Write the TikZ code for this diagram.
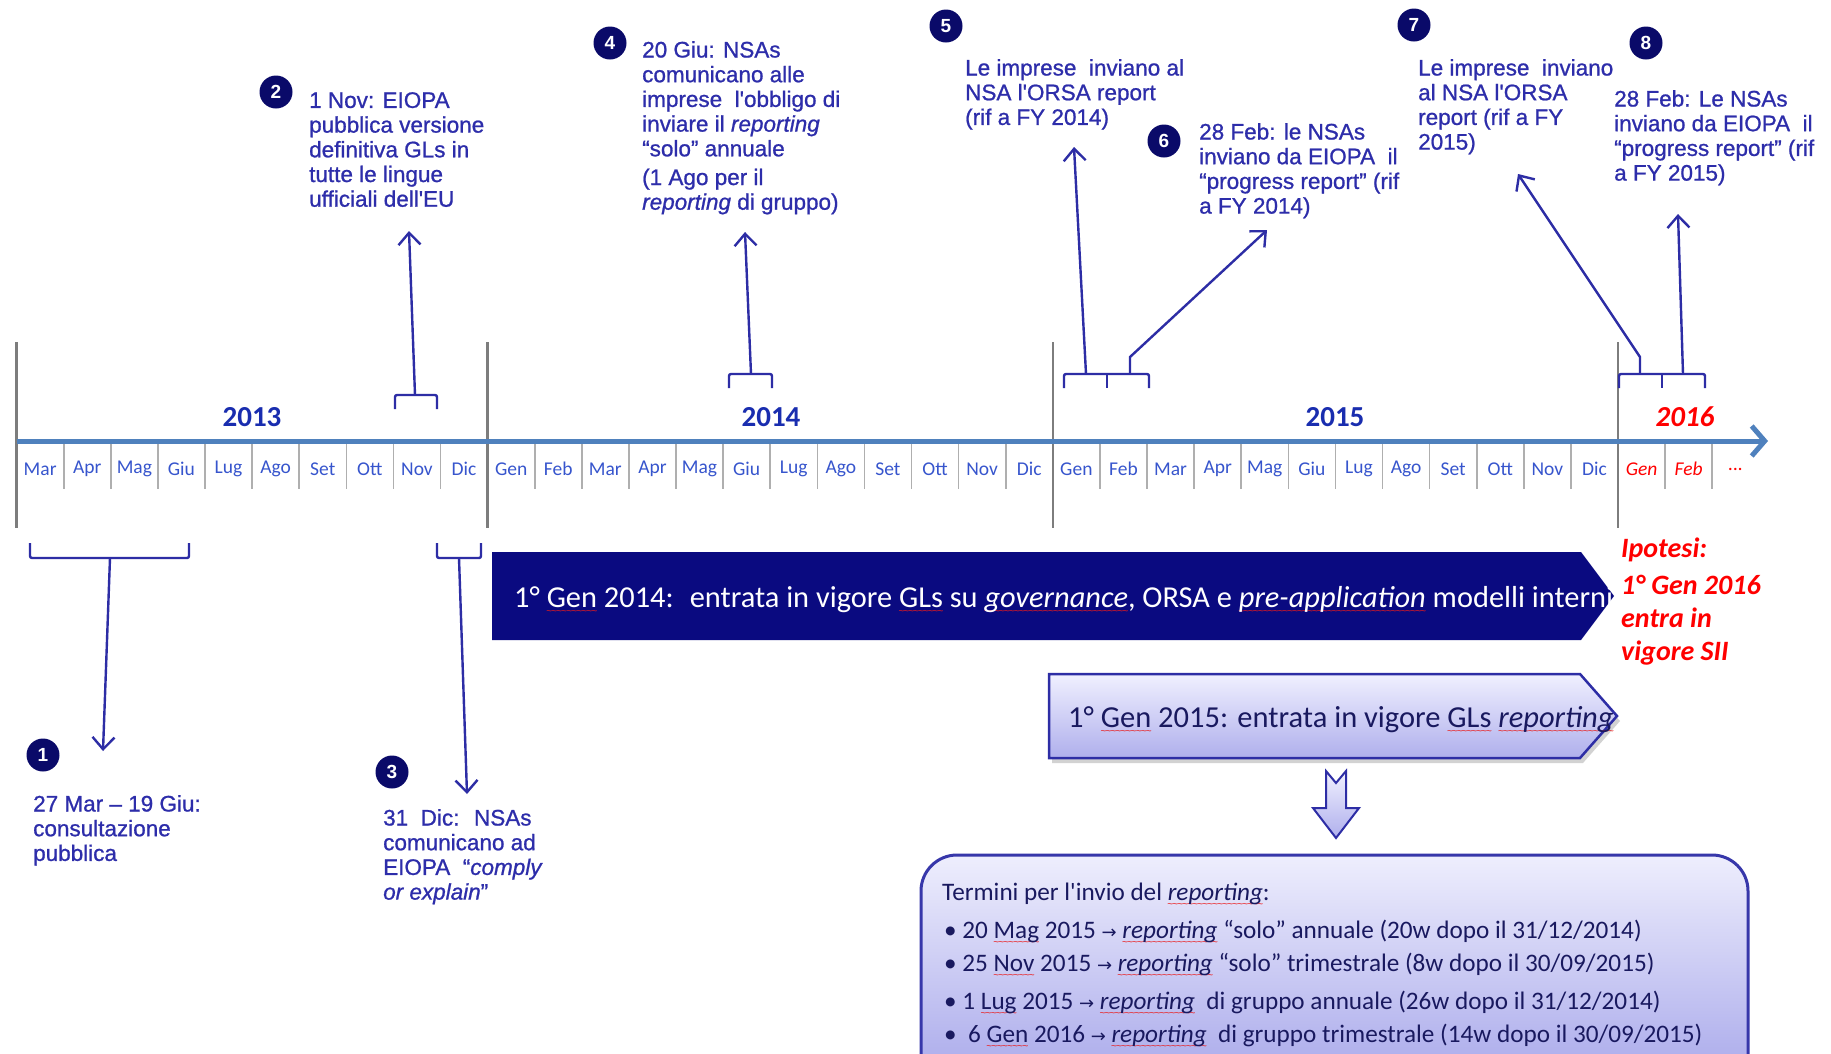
\documentclass[tikz,border=0pt]{standalone}
\usepackage{fontspec}
\setmainfont{Liberation Sans}
\newfontfamily\calib{Carlito}
\newfontfamily\symfont{DejaVu Sans}
\newfontfamily\calloutfont{Liberation Sans}[FakeBold=0.9]
\usetikzlibrary{arrows.meta,shadows}

\definecolor{navy}{RGB}{10,10,105}
\definecolor{linkblue}{RGB}{45,45,165}
\definecolor{txtblue}{RGB}{45,45,170}
\definecolor{monblue}{RGB}{55,85,205}
\definecolor{yrblue}{RGB}{25,45,175}
\definecolor{axisblue}{RGB}{79,129,189}
\definecolor{gridgrey}{RGB}{125,125,125}
\definecolor{tickgrey}{RGB}{175,175,175}
\definecolor{bannernavy}{RGB}{10,10,128}
\definecolor{lavtop}{RGB}{240,240,255}
\definecolor{lavbot}{RGB}{175,175,236}
\definecolor{boxtop}{RGB}{238,238,253}
\definecolor{boxbot}{RGB}{160,160,232}
\definecolor{boxline}{RGB}{55,55,170}
\definecolor{boxtxt}{RGB}{25,25,95}
\definecolor{squig}{RGB}{235,25,25}
\definecolor{hypred}{RGB}{255,0,0}

% red wavy underline for the marked words (a row of small tildes)
\newcommand\sq[1]{\leavevmode\setbox0\hbox{#1}%
  \rlap{\raisebox{-7.5pt}[0pt][0pt]{\hbox to\wd0{\color{squig}\normalfont\fontsize{10}{10}\selectfont
    \xleaders\hbox{\kern-0.5pt\char"7E\kern-0.5pt}\hfil}}}\box0\relax}
\newcommand\rarr{{\symfont\fontsize{18}{18}\selectfont →}}

\begin{document}
\begin{tikzpicture}[x=1pt,y=-1pt,
  mon/.style={font=\calib\fontsize{19.5}{20}\selectfont, text=monblue, inner sep=0},
  monnext/.style={font=\calib\itshape\fontsize{19.5}{20}\selectfont, text=hypred, inner sep=0},
  yr/.style={font=\calib\bfseries\fontsize{29}{30}\selectfont, text=yrblue, inner sep=0},
  callout/.style={font=\calloutfont\fontsize{22.5}{24.7}\selectfont, text=txtblue, align=left, anchor=north west, inner sep=0},
  num/.style={circle, fill=navy, text=white, font=\bfseries\fontsize{19}{19}\selectfont, minimum size=33pt, inner sep=0},
  brk/.style={draw=linkblue, line width=2.4pt, rounded corners=2pt},
  link/.style={draw=linkblue, line width=2.4pt, -{Straight Barb[length=12pt,width=22pt]}},
  bantext/.style={font=\calib\fontsize{30.4}{33}\selectfont, anchor=base west, inner sep=0},
  boxtext/.style={font=\calib\fontsize{25.2}{27}\selectfont, text=boxtxt, anchor=base west, inner sep=0},
]
\useasboundingbox (0,0) rectangle (1831,1053);
\fill[white] (0,0) rectangle (1831,1053);
\clip (0,0) rectangle (1831,1053);

% ---------- timeline ----------
\foreach \i in {0,10,22,34}
  \draw[gridgrey, line width=2.5pt] ({16.6+\i*47.1},342) -- ({16.6+\i*47.1},528);
\foreach \i in {1,...,9,11,12,...,21,23,24,...,33,35,36}
  \draw[tickgrey, line width=1.6pt] ({16.6+\i*47.1},441) -- ({16.6+\i*47.1},489);

\coordinate (axL) at (16.6,441);
\coordinate (axR) at (1768,441);
\draw[axisblue, line width=5pt, -{Straight Barb[length=13pt,width=30pt]}] (axL) -- (axR);

\foreach \m [count=\i from 0] in {Mar,Apr,Mag,Giu,Lug,Ago,Set,Ott,Nov,Dic,
    Gen,Feb,Mar,Apr,Mag,Giu,Lug,Ago,Set,Ott,Nov,Dic,
    Gen,Feb,Mar,Apr,Mag,Giu,Lug,Ago,Set,Ott,Nov,Dic}
  \node[mon] (m\i) at ({16.6+(\i+0.5)*47.1},469) {\m};
\node[monnext] (m34) at ({16.6+34.5*47.1},469) {Gen};
\node[monnext] (m35) at ({16.6+35.5*47.1},469) {Feb};
\node[monnext] (m36) at ({16.6+36.5*47.1},469) {...};

\node[yr] (y13) at (252,417) {2013};
\node[yr] (y14) at (771,417) {2014};
\node[yr] (y15) at (1335,417) {2015};
\node[yr, text=hypred, font=\calib\bfseries\itshape\fontsize{29}{30}\selectfont] (y16) at (1685,417) {2016};

% ---------- brackets ----------
\draw[brk] (30,543) -- (30,558) -- (189,558) -- (189,543);
\draw[brk] (437,543) -- (437,558) -- (481,558) -- (481,543);
\draw[brk] (395,409) -- (395,395) -- (437,395) -- (437,409);
\draw[brk] (729,388) -- (729,374) -- (772,374) -- (772,388);
\draw[brk] (1064,388) -- (1064,374) -- (1149,374) -- (1149,388);
\draw[brk] (1107,374) -- (1107,388);
\draw[brk] (1619,388) -- (1619,374) -- (1705,374) -- (1705,388);
\draw[brk] (1662,374) -- (1662,388);

% ---------- numbered events ----------
\node[num] (c1) at (43,755) {1};
\node[num] (c2) at (276,92) {2};
\node[num] (c3) at (392,772) {3};
\node[num] (c4) at (610,43) {4};
\node[num] (c5) at (946,26) {5};
\node[num] (c6) at (1164,141) {6};
\node[num] (c7) at (1414,25) {7};
\node[num] (c8) at (1646,43) {8};

\node[callout] (l1) at (33,795) {27 Mar – 19 Giu:\\consultazione\\pubblica};
\node[callout] (l2) at (309,92) {1 Nov: EIOPA\\pubblica versione\\definitiva GLs in\\tutte le lingue\\ufficiali dell'EU};
\node[callout] (l3) at (383,809) {31~ Dic:~ NSAs\\comunicano ad\\EIOPA~ “\textit{comply}\\\textit{or explain}”};
\node[callout] (l4) at (642,41) {20 Giu: NSAs\\comunicano alle\\imprese~ l'obbligo di\\inviare il \textit{reporting}\\“solo” annuale\\[4pt](1 Ago per il\\\textit{reporting} di gruppo)};
\node[callout] (l5) at (965,59) {Le imprese~ inviano al\\NSA l'ORSA report\\(rif a FY 2014)};
\node[callout] (l6) at (1199,123) {28 Feb: le NSAs\\inviano da EIOPA~ il\\“progress report” (rif\\a FY 2014)};
\node[callout] (l7) at (1418,59) {Le imprese~ inviano\\al NSA l'ORSA\\report (rif a FY\\2015)};
\node[callout] (l8) at (1614,90) {28 Feb: Le NSAs\\inviano da EIOPA~ il\\“progress report” (rif\\a FY 2015)};

% stems: from the bracket to the event text
\coordinate (s1) at (110,558);  \coordinate (e1) at (103,751);
\coordinate (s2) at (415,395);  \coordinate (e2) at (409,231);
\coordinate (s3) at (459,558);  \coordinate (e3) at (467,794);
\coordinate (s4) at (751,374);  \coordinate (e4) at (745,232);
\coordinate (s5) at (1086,374); \coordinate (e5) at (1074,147);
\coordinate (s6) at (1130,374); \coordinate (k6) at (1130,357); \coordinate (e6) at (1267,230);
\coordinate (s7) at (1640,374); \coordinate (k7) at (1640,357); \coordinate (e7) at (1518,174);
\coordinate (s8) at (1683,374); \coordinate (e8) at (1678,214);

\draw[link] (s1) -- (e1);
\draw[link] (s2) -- (e2);
\draw[link] (s3) -- (e3);
\draw[link] (s4) -- (e4);
\draw[link] (s5) -- (e5);
\draw[link] (s6) -- (k6) -- (e6);
\draw[link] (s7) -- (k7) -- (e7);
\draw[link] (s8) -- (e8);

% ---------- 2014 banner ----------
\fill[bannernavy] (492,552) -- (1581,552) -- (1614,596) -- (1581,640) -- (492,640) -- cycle;
\node[bantext, text=white] (b1) at (514,607)
  {1° \sq{Gen} 2014:~ entrata in vigore \sq{GLs} su \textit{\sq{governance}}, ORSA e \textit{\sq{pre-application}} modelli interni};

\node[anchor=north west, align=left, inner sep=0, text=hypred,
      font=\calib\bfseries\itshape\fontsize{28}{33}\selectfont] (hyp) at (1621,538)
  {Ipotesi:\\[4pt]1° Gen 2016\\entra in\\vigore SII};

% ---------- 2015 banner ----------
\path[drop shadow={opacity=0.35, shadow xshift=3pt, shadow yshift=-5pt},
      top color=lavtop, bottom color=lavbot, draw=linkblue, line width=2.5pt]
  (1049,674) -- (1580,674) -- (1617,716) -- (1580,758) -- (1049,758) -- cycle;
\node[bantext, text=boxtxt, font=\calib\fontsize{30.5}{32}\selectfont] (b2) at (1068,727)
  {1° \sq{Gen} 2015: entrata in vigore \sq{GLs} \textit{\sq{reporting}}};

% hollow arrow down to the deadlines
\path[top color=lavtop, bottom color=lavbot, draw=linkblue, line width=2pt, line join=miter]
  (1326,771) -- (1336,783) -- (1346,771) -- (1346,808) -- (1359,808) -- (1336,838)
  -- (1313,808) -- (1326,808) -- cycle;

% ---------- deadlines box ----------
\path[top color=boxtop, bottom color=boxbot, draw=boxline, line width=3pt, rounded corners=36pt]
  (921,855) rectangle (1748,1110);
\node[boxtext] (bx0) at (942,900) {Termini per l'invio del \textit{\sq{reporting}}:};
\node[boxtext] (bx1) at (944,938) {• 20 \sq{Mag} 2015 \rarr{} \textit{\sq{reporting}} “solo” annuale (20w dopo il 31/12/2014)};
\node[boxtext] (bx2) at (944,971) {• 25 \sq{Nov} 2015 \rarr{} \textit{\sq{reporting}} “solo” trimestrale (8w dopo il 30/09/2015)};
\node[boxtext] (bx3) at (944,1009) {• 1 \sq{Lug} 2015 \rarr{} \textit{\sq{reporting}}~ di gruppo annuale (26w dopo il 31/12/2014)};
\node[boxtext] (bx4) at (944,1042) {•~ 6 \sq{Gen} 2016 \rarr{} \textit{\sq{reporting}}~ di gruppo trimestrale (14w dopo il 30/09/2015)};
\end{tikzpicture}
\end{document}
